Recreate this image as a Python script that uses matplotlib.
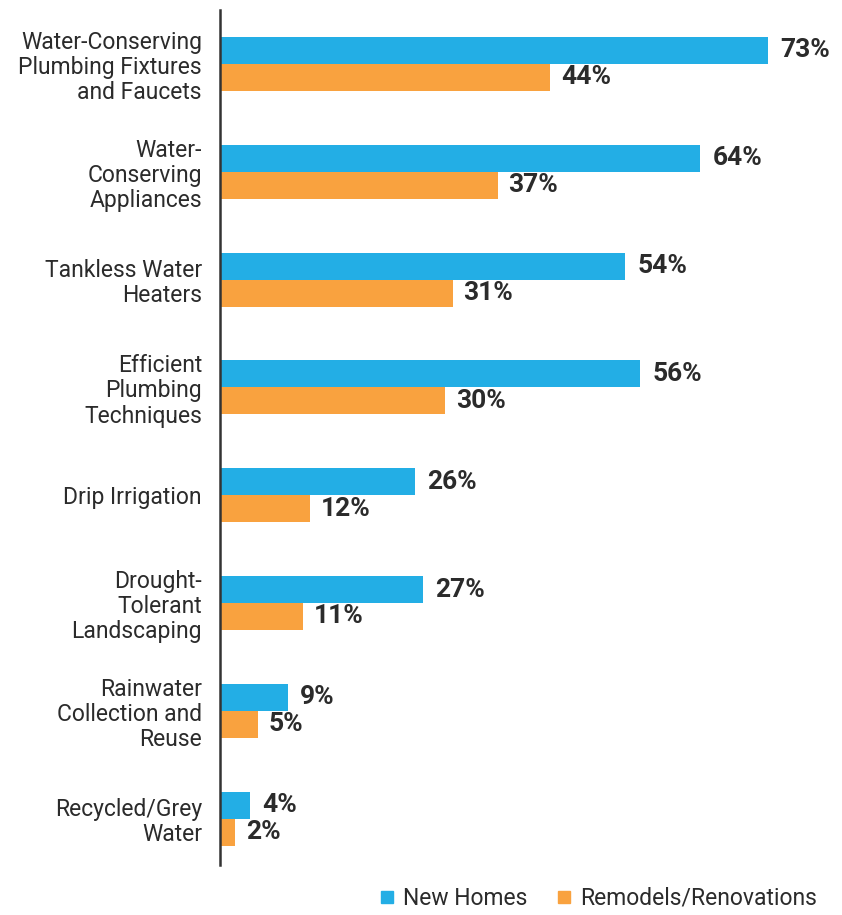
import numpy as np
import matplotlib.pyplot as plt
from matplotlib.lines import Line2D

plt.rcParams['font.family'] = ['Roboto', 'DejaVu Sans']

categories = [
    "Water-Conserving\nPlumbing Fixtures\nand Faucets",
    "Water-\nConserving\nAppliances",
    "Tankless Water\nHeaters",
    "Efficient\nPlumbing\nTechniques",
    "Drip Irrigation",
    "Drought-\nTolerant\nLandscaping",
    "Rainwater\nCollection and\nReuse",
    "Recycled/Grey\nWater",
]
newHomes = [73, 64, 54, 56, 26, 27, 9, 4]
remodels = [44, 37, 31, 30, 12, 11, 5, 2]
seriesNames = ["New Homes", "Remodels/Renovations"]

blue = "#23aee5"
orange = "#f9a23f"
textColor = "#2b2b2b"

W, H = 842, 915
fig = plt.figure(figsize=(W / 100, H / 100), dpi=100)
ax = fig.add_axes([220 / W, 1 - 865 / H, 600 / W, 855 / H])

y = np.arange(len(categories))
barH = 0.25
ax.barh(y - barH / 2, newHomes, height=barH, color=blue)
ax.barh(y + barH / 2, remodels, height=barH, color=orange)

ax.set_xlim(0, 80)
ax.set_ylim(7.43, -0.5)

for yi, v in zip(y - barH / 2, newHomes):
    ax.annotate(f"{v}%", (v, yi), xytext=(9, 0), textcoords="offset points",
                va="center", ha="left", fontsize=19, fontweight="bold", color=textColor)
for yi, v in zip(y + barH / 2, remodels):
    ax.annotate(f"{v}%", (v, yi), xytext=(8, 0), textcoords="offset points",
                va="center", ha="left", fontsize=19, fontweight="bold", color=textColor)

ax.set_yticks(y)
ax.set_yticklabels(categories, fontsize=16.5, color=textColor, linespacing=1.12)
ax.tick_params(axis="y", length=0, pad=13)
ax.set_xticks([])
for s in ["top", "right", "bottom"]:
    ax.spines[s].set_visible(False)
ax.spines["left"].set_color("#333333")
ax.spines["left"].set_linewidth(1.8)

handles = [Line2D([], [], marker="s", linestyle="none", markersize=9, color=c)
           for c in (blue, orange)]
fig.legend(handles, seriesNames, loc="lower right", bbox_to_anchor=(838 / W, -0.017),
           ncol=2, frameon=False, fontsize=16.5, handletextpad=0.2, columnspacing=1.1,
           handlelength=1.0, labelcolor=textColor)

fig.savefig("out.png", dpi=100, facecolor="white")
